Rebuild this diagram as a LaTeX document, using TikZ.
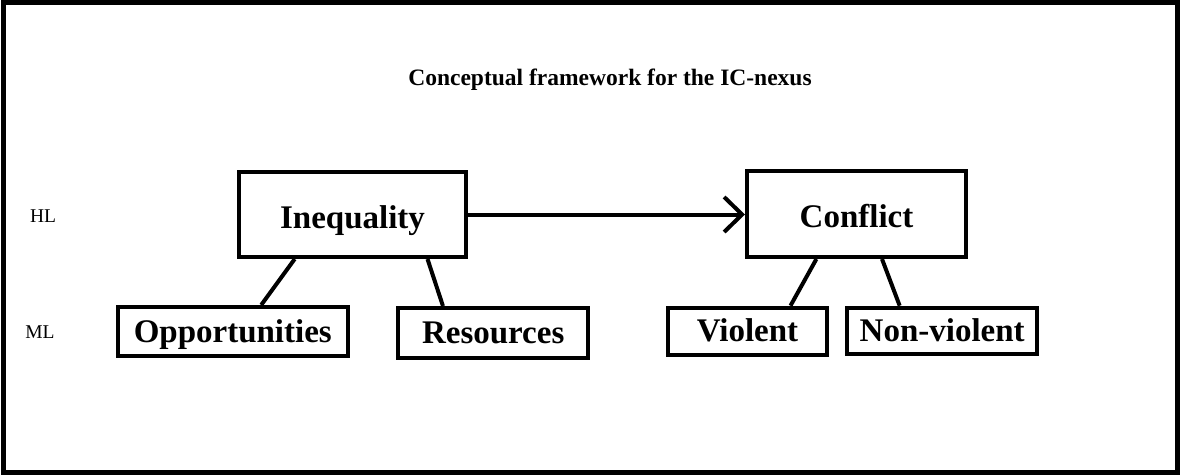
\documentclass[tikz,border=0pt]{standalone}
\usepackage{fontspec}
\setmainfont{Liberation Serif}
\usetikzlibrary{arrows.meta,calc}
\begin{document}
\begin{tikzpicture}[x=1pt,y=-1pt,
  frame/.style={line width=5pt},
  topbox/.style={draw,line width=4pt,inner sep=0pt,
    font=\fontsize{33}{36}\selectfont\bfseries,text height=27pt,text depth=0pt},
  lowbox/.style={draw,line width=4pt,inner sep=0pt,
    font=\fontsize{33}{36}\selectfont\bfseries,text height=21pt,text depth=0pt},
  link/.style={line width=4pt},
  level/.style={font=\fontsize{19.5}{22}\selectfont,inner sep=0pt},
  heading/.style={font=\fontsize{23.5}{26}\selectfont\bfseries,inner sep=0pt,anchor=base}]
\useasboundingbox (0,0) rectangle (1180,475);
% outer frame
\draw[frame] (3,2.7) rectangle (1177.3,472.2);

% title
\node[heading] (title) at (610,85) {Conceptual framework for the IC-nexus};

% level labels
\node[level] (hl) at (43,216) {HL};
\node[level] (ml) at (40,332) {ML};

% high-level concepts
\node[topbox,minimum width=227pt,minimum height=85pt] (ineq) at (352.5,214.5) {Inequality};
\node[topbox,minimum width=219pt,minimum height=86pt] (conf) at (856.5,214) {Conflict};

% micro-level dimensions
\node[lowbox,minimum width=230pt,minimum height=49pt] (opp) at (232.8,331.5) {Opportunities};
\node[lowbox,minimum width=190.5pt,minimum height=50pt] (res) at (493.2,333) {Resources};
\node[lowbox,minimum width=159pt,minimum height=47pt] (viol) at (747.5,331.2) {Violent};
\node[lowbox,minimum width=190.5pt,minimum height=46pt] (nonv) at (942.2,330.7) {Non-violent};

% causal arrow
\draw[link,-{Straight Barb[length=18pt,width=35pt]}] (ineq.east) -- (conf.west |- ineq.east);

% links to the dimensions
\draw[link] ($(ineq.south west)+(57.7,0)$) -- ($(opp.north west)+(145.4,0)$);
\draw[link] ($(ineq.south west)+(190.5,0)$) -- ($(res.north west)+(47,0)$);
\draw[link] ($(conf.south west)+(71.4,0)$) -- ($(viol.north west)+(124.5,0)$);
\draw[link] ($(conf.south west)+(137,0)$) -- ($(nonv.north west)+(54.7,0)$);
\end{tikzpicture}
\end{document}
